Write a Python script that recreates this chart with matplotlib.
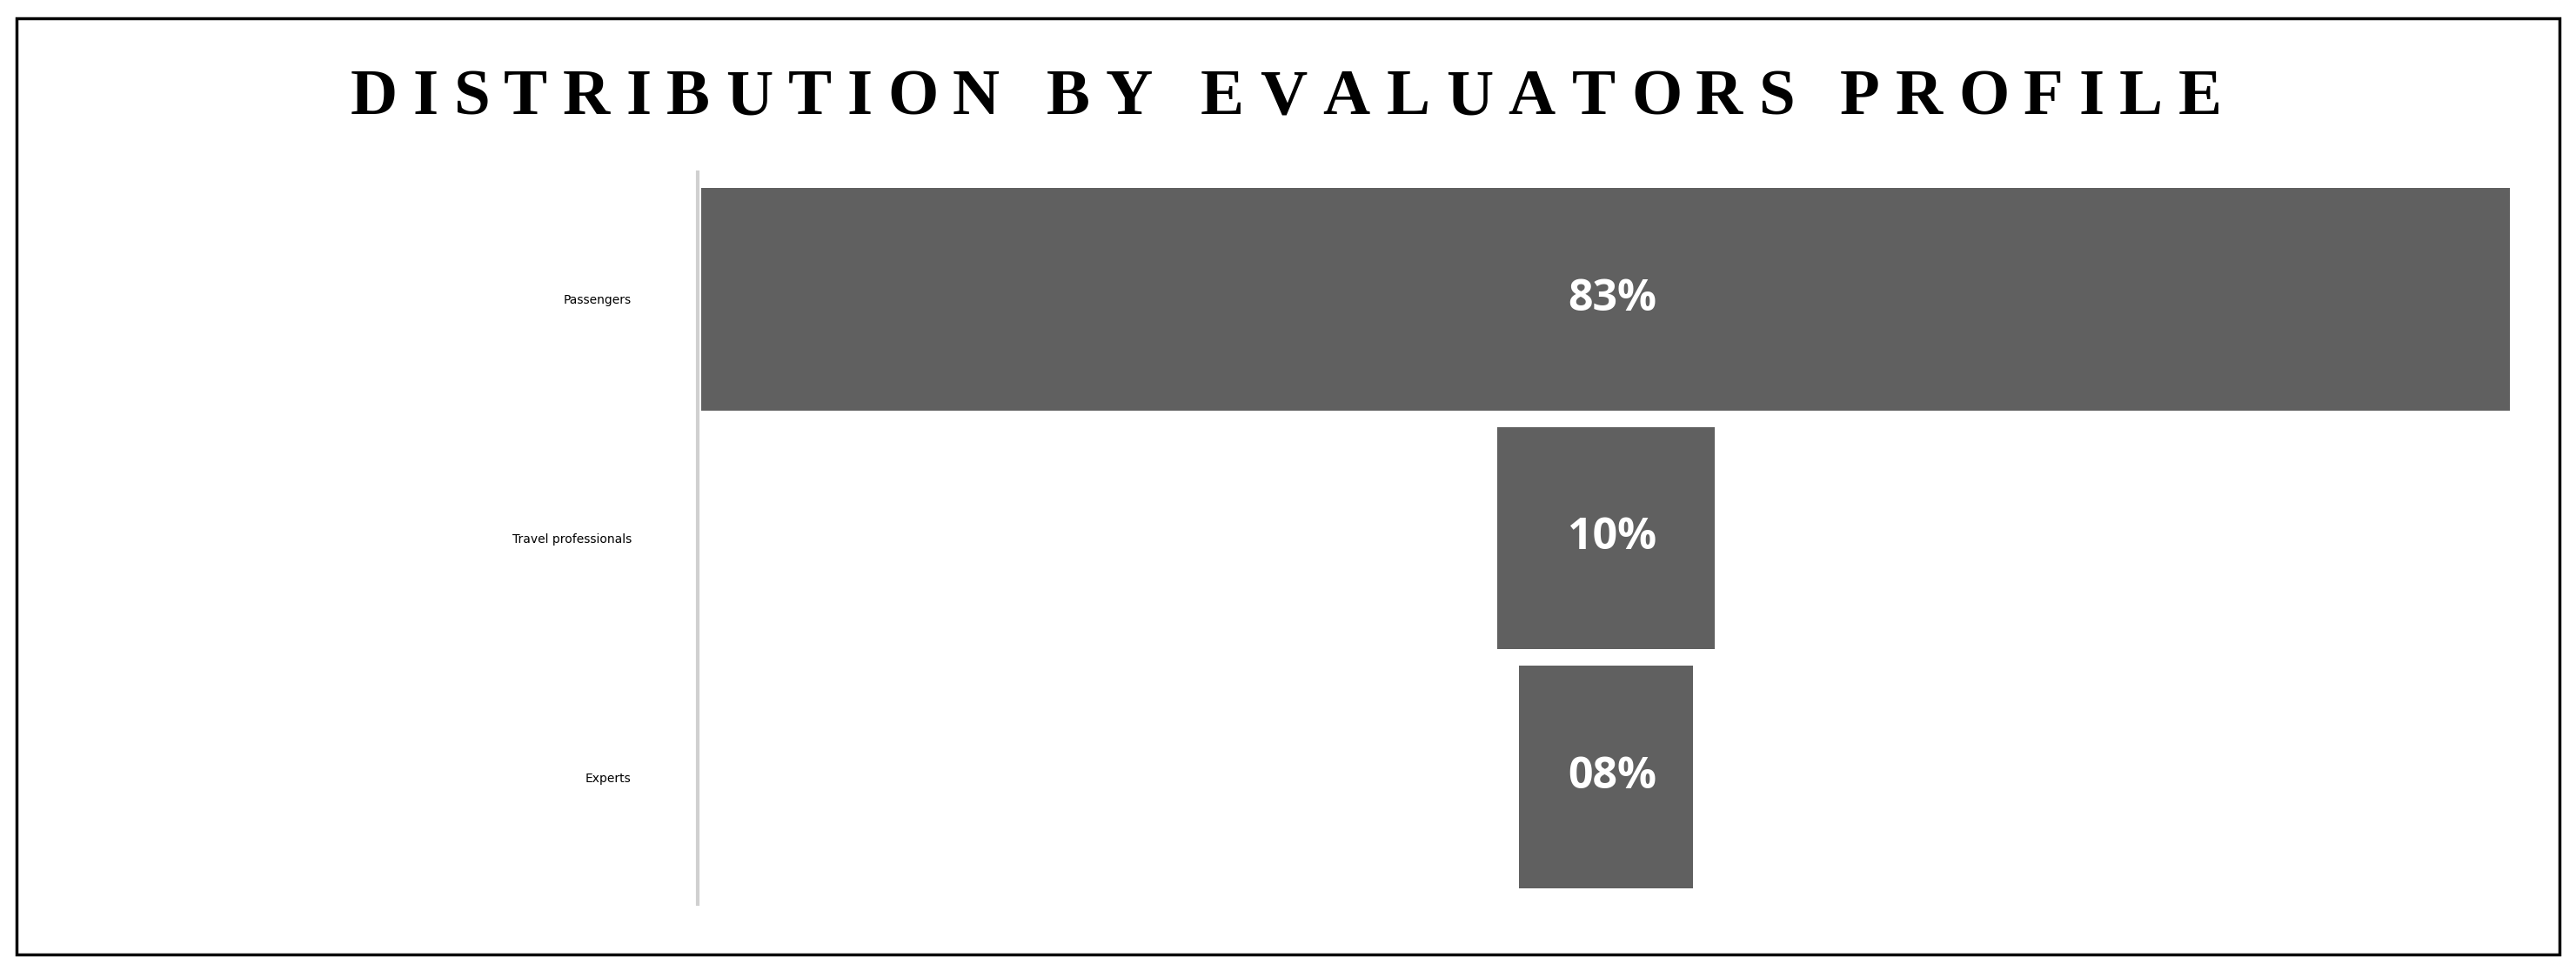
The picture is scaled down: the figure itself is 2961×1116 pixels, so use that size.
import matplotlib
matplotlib.use("Agg")
import matplotlib.pyplot as plt
from matplotlib.patches import Rectangle
from matplotlib.textpath import TextPath
from matplotlib.font_manager import FontProperties

categories = ["Passengers", "Travel professionals", "Experts"]
values = [83, 10, 8]
value_labels = ["83%", "10%", "08%"]
title = "DISTRIBUTION BY EVALUATORS PROFILE"

W, H = 2961, 1116
fig = plt.figure(figsize=(W / 100, H / 100), dpi=100)
fig.patch.set_facecolor("white")

# outer border
fig.add_artist(Rectangle((10 / 1568, 10 / 591), 1548 / 1568, 570 / 591, transform=fig.transFigure,
                         fill=False, edgecolor="black", linewidth=2.5))

# letter-spaced title
title_font = FontProperties(family="Liberation Serif", weight="bold", size=54)
spacing = 10  # extra points between letters
bar_w = TextPath((0, 0), "|", prop=title_font).get_extents().width
adv = [TextPath((0, 0), ch + "|", prop=title_font).get_extents().width - bar_w if ch != " " else 16
       for ch in title]
total = sum(a + spacing for a in adv) - spacing
x = W * 0.5 - total / 2 * (100 / 72)
for ch, a in zip(title, adv):
    fig.text(x / W, 1 - 60 / 591, ch, fontproperties=title_font, ha="left", va="center")
    x += (a + spacing) * (100 / 72)

ax = fig.add_axes([427 / 1568, 41 / 591, (1528 - 427) / 1568, (591 - 41 - 105) / 591])
n = len(values)
y = list(range(n))
center = max(values) / 2
ax.barh(y, values, left=[center - v / 2 for v in values], height=0.93, color="#606060")
for yi, v, lab in zip(y, values, value_labels):
    ax.text(center + 0.3, yi, lab, color="white", ha="center", va="center",
            fontsize=36, fontweight="bold", family="Open Sans")
ax.set_xlim(0, max(values))
ax.set_ylim(n - 0.5 + 0.03, -0.5 - 0.03)
ax.set_yticks(y)
ax.set_yticklabels(categories)
label_font = FontProperties(family="Open Sans", weight="bold", size=35)
for t in ax.get_yticklabels():
    t.set_fontproperties(label_font)
ax.tick_params(axis="y", length=0, pad=55)
ax.set_xticks([])
for s in ["top", "right", "bottom"]:
    ax.spines[s].set_visible(False)
ax.spines["left"].set_color("#d0d0d0")
ax.spines["left"].set_linewidth(3)
ax.spines["left"].set_position(("outward", 3))

fig.savefig("out.png", dpi=100, facecolor="white")
